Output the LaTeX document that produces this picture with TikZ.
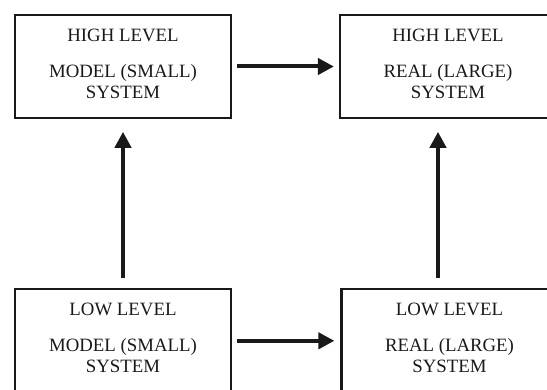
\documentclass[tikz,border=0pt]{standalone}
\usepackage{fontspec}
\setmainfont{Liberation Serif}
\usetikzlibrary{arrows.meta}
\begin{document}
\begin{tikzpicture}[x=1pt,y=-1pt,
  sysbox/.style={draw=black!90,line width=2.2pt,minimum width=216pt,minimum height=103pt,
    inner sep=0pt,align=center,text=black!90,text depth=6pt,font=\fontsize{18.8}{21}\selectfont},
  flow/.style={line width=4pt,draw=black!90,fill=black!90,-{Triangle[length=16pt,width=16pt]}}]
\useasboundingbox (0,0) rectangle (547,390);
\clip (0,0) rectangle (547,390);
\node[sysbox] (tl) at (123,66.5) {HIGH LEVEL\\[14.6pt]MODEL (SMALL)\\SYSTEM};
\node[sysbox] (tr) at (448,66.5) {HIGH LEVEL\\[14.6pt]REAL (LARGE)\\SYSTEM};
\node[sysbox] (bl) at (123,340.8) {LOW LEVEL\\[14.6pt]MODEL (SMALL)\\SYSTEM};
\node[sysbox] (br) at (449.5,340.8) {LOW LEVEL\\[14.6pt]REAL (LARGE)\\SYSTEM};
\draw[flow,shorten <=5.3pt,shorten >=5pt] (tl.east) -- (tr.west);
\draw[flow,shorten <=5.3pt,shorten >=6pt] (bl.east) -- (br.west);
\draw[flow,shorten <=10pt,shorten >=12.7pt] (bl.north) -- (tl.south);
\draw[flow,shorten <=10pt,shorten >=12.7pt] ([xshift=-11.5pt]br.north) -- ([xshift=-10pt]tr.south);
\end{tikzpicture}
\end{document}
